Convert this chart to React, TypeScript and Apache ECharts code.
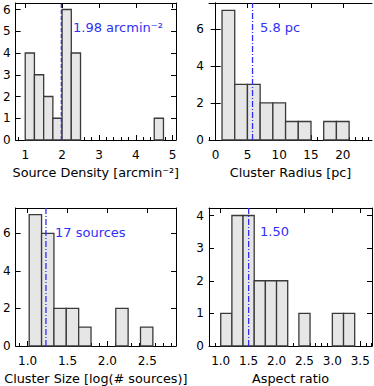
import React, { useEffect, useRef } from "react";
import * as echarts from "echarts";

// ---- data ----
const densityBinStart = 1.0;
const densityBinWidth = 0.25;
const densityCounts = [4, 3, 2, 1, 6, 4, 0, 0, 0, 0, 0, 0, 0, 0, 1];
const densityMedian = 1.98;
const densityTicks = [1, 2, 3, 4, 5];
const densityCountTicks = [0, 1, 2, 3, 4, 5, 6];

const radiusBinStart = 1;
const radiusBinWidth = 2;
const radiusCounts = [7, 3, 3, 2, 2, 1, 1, 0, 1, 1];
const radiusMedian = 5.8;
const radiusTicks = [0, 5, 10, 15, 20];
const radiusCountTicks = [0, 2, 4, 6];

const sizeBinStart = 1.02;
const sizeBinWidth = 0.155;
const sizeCounts = [7, 6, 2, 2, 1, 0, 0, 2, 0, 1];
const sizeMedian = 1.23; // log10(17 sources)
const sizeTicks = [1.0, 1.5, 2.0, 2.5];
const sizeCountTicks = [0, 2, 4, 6];

const aspectBinStart = 1.0;
const aspectBinWidth = 0.2;
const aspectCounts = [1, 4, 4, 2, 2, 2, 0, 1, 0, 0, 1, 1];
const aspectMedian = 1.5;
const aspectTicks = [1.0, 1.5, 2.0, 2.5, 3.0, 3.5];
const aspectCountTicks = [0, 1, 2, 3, 4];

const FONT = "DejaVu Sans";
const BLUE = "#2f2ff5";

function steps(from: number, to: number, step: number): number[] {
  const out: number[] = [];
  const n = Math.round((to - from) / step);
  for (let i = 0; i <= n; i++) out.push(+(from + i * step).toFixed(4));
  return out;
}

const panels = [
  {
    grid: { left: 12, top: 3, width: 164, height: 137 },
    xMin: 0.74, xMax: 5.09, yMax: 6.3,
    binStart: densityBinStart, binWidth: densityBinWidth, counts: densityCounts,
    median: densityMedian, dash: [4, 2],
    xTicks: densityTicks, minor: steps(0.8, 5.0, 0.2), yTicks: densityCountTicks,
    fmt: (v: number) => String(v),
    name: "Source Density [arcmin\u207B\u00B2]",
    note: "1.98 arcmin\u207B\u00B2", noteX: 73, noteY: 27,
  },
  {
    grid: { left: 209, top: 3, width: 163, height: 137 },
    xMin: -1.05, xMax: 24.6, yMax: 7.4,
    binStart: radiusBinStart, binWidth: radiusBinWidth, counts: radiusCounts,
    median: radiusMedian, dash: [6, 2, 1, 2],
    xTicks: radiusTicks, minor: steps(-1, 24, 1), yTicks: radiusCountTicks,
    fmt: (v: number) => String(v),
    name: "Cluster Radius [pc]",
    note: "5.8 pc", noteX: 260, noteY: 27,
  },
  {
    grid: { left: 12, top: 208, width: 164, height: 138 },
    xMin: 0.85, xMax: 2.86, yMax: 7.35,
    binStart: sizeBinStart, binWidth: sizeBinWidth, counts: sizeCounts,
    median: sizeMedian, dash: [6, 2, 1, 2],
    xTicks: sizeTicks, minor: steps(0.9, 2.8, 0.1), yTicks: sizeCountTicks,
    fmt: (v: number) => v.toFixed(1),
    name: "Cluster Size [log(# sources)]",
    note: "17 sources", noteX: 55, noteY: 232,
  },
  {
    grid: { left: 209, top: 208, width: 163, height: 138 },
    xMin: 0.79, xMax: 3.71, yMax: 4.23,
    binStart: aspectBinStart, binWidth: aspectBinWidth, counts: aspectCounts,
    median: aspectMedian, dash: [6, 2, 1, 2],
    xTicks: aspectTicks, minor: steps(0.8, 3.7, 0.1), yTicks: aspectCountTicks,
    fmt: (v: number) => v.toFixed(1),
    name: "Aspect ratio",
    note: "1.50", noteX: 260, noteY: 231,
  },
];

function buildOption() {
  const grid: any[] = [];
  const xAxis: any[] = [];
  const yAxis: any[] = [];
  const series: any[] = [];
  const graphic: any[] = [];
  const lineColor = "#000";

  panels.forEach((p, g) => {
    grid.push({ ...p.grid, containLabel: false });
    const common = { gridIndex: g, type: "value", min: p.xMin, max: p.xMax, splitLine: { show: false } };
    xAxis.push({
      ...common,
      position: "bottom",
      axisLine: { show: true, lineStyle: { color: lineColor, width: 1 } },
      axisTick: { show: true, inside: true, length: 5, customValues: p.xTicks, lineStyle: { color: lineColor } },
      axisLabel: {
        show: true, customValues: p.xTicks, formatter: p.fmt, margin: 9,
        fontSize: 12, color: "#000", fontFamily: FONT,
      },
      name: p.name,
      nameLocation: "middle",
      nameGap: 26,
      nameTextStyle: { fontSize: 12.8, color: "#000", fontFamily: FONT },
    });
    xAxis.push({
      ...common,
      position: "bottom",
      axisLine: { show: false },
      axisTick: { show: true, inside: true, length: 3, customValues: p.minor, lineStyle: { color: lineColor } },
      axisLabel: { show: false },
    });
    xAxis.push({
      ...common,
      position: "top",
      axisLine: { show: true, lineStyle: { color: lineColor, width: 1 } },
      axisTick: { show: true, inside: true, length: 5, customValues: p.xTicks, lineStyle: { color: lineColor } },
      axisLabel: { show: false },
    });
    const yCommon = { gridIndex: g, type: "value", min: 0, max: p.yMax, splitLine: { show: false } };
    yAxis.push({
      ...yCommon,
      position: "left",
      axisLine: { show: true, lineStyle: { color: lineColor, width: 1 } },
      axisTick: { show: true, inside: true, length: 5, customValues: p.yTicks, lineStyle: { color: lineColor } },
      axisLabel: {
        show: true, customValues: p.yTicks, margin: 5,
        fontSize: 12, color: "#000", fontFamily: FONT,
      },
    });
    yAxis.push({
      ...yCommon,
      position: "right",
      axisLine: { show: true, lineStyle: { color: lineColor, width: 1 } },
      axisTick: { show: true, inside: true, length: 5, customValues: p.yTicks, lineStyle: { color: lineColor } },
      axisLabel: { show: false },
    });

    const bins = p.counts
      .map((c, i) => [p.binStart + i * p.binWidth, p.binStart + (i + 1) * p.binWidth, c])
      .filter((d) => d[2] > 0);

    series.push({
      type: "custom",
      xAxisIndex: g * 3,
      yAxisIndex: g * 2,
      data: bins,
      encode: { x: [0, 1], y: 2 },
      clip: false,
      z: 2,
      renderItem: (params: any, api: any) => {
        const p0 = api.coord([api.value(0), api.value(2)]);
        const p1 = api.coord([api.value(1), 0]);
        return {
          type: "rect",
          shape: { x: p0[0], y: p0[1], width: p1[0] - p0[0], height: p1[1] - p0[1] },
          style: { fill: "#e6e6e6", stroke: "#3a3a3a", lineWidth: 1.3 },
        };
      },
    });
    series.push({
      type: "line",
      xAxisIndex: g * 3,
      yAxisIndex: g * 2,
      data: [[p.median, 0], [p.median, p.yMax]],
      symbol: "none",
      silent: true,
      z: 3,
      lineStyle: { color: BLUE, width: 1.3, type: p.dash },
    });
    graphic.push({
      type: "text",
      x: p.noteX,
      y: p.noteY,
      style: {
        text: p.note,
        fill: BLUE,
        fontSize: 13,
        fontFamily: FONT,
        verticalAlign: "middle",
      },
    });
  });

  return { animation: false, backgroundColor: "#fff", grid, xAxis, yAxis, series, graphic };
}

export default function App() {
  const ref = useRef<HTMLDivElement>(null);
  useEffect(() => {
    if (!ref.current) return;
    const chart = echarts.init(ref.current, undefined, { renderer: "svg" });
    chart.setOption(buildOption() as any);
    return () => chart.dispose();
  }, []);
  return (
    <div
      ref={ref}
      style={{ position: "fixed", left: 0, top: 0, width: 374, height: 386, background: "#fff" }}
    />
  );
}
